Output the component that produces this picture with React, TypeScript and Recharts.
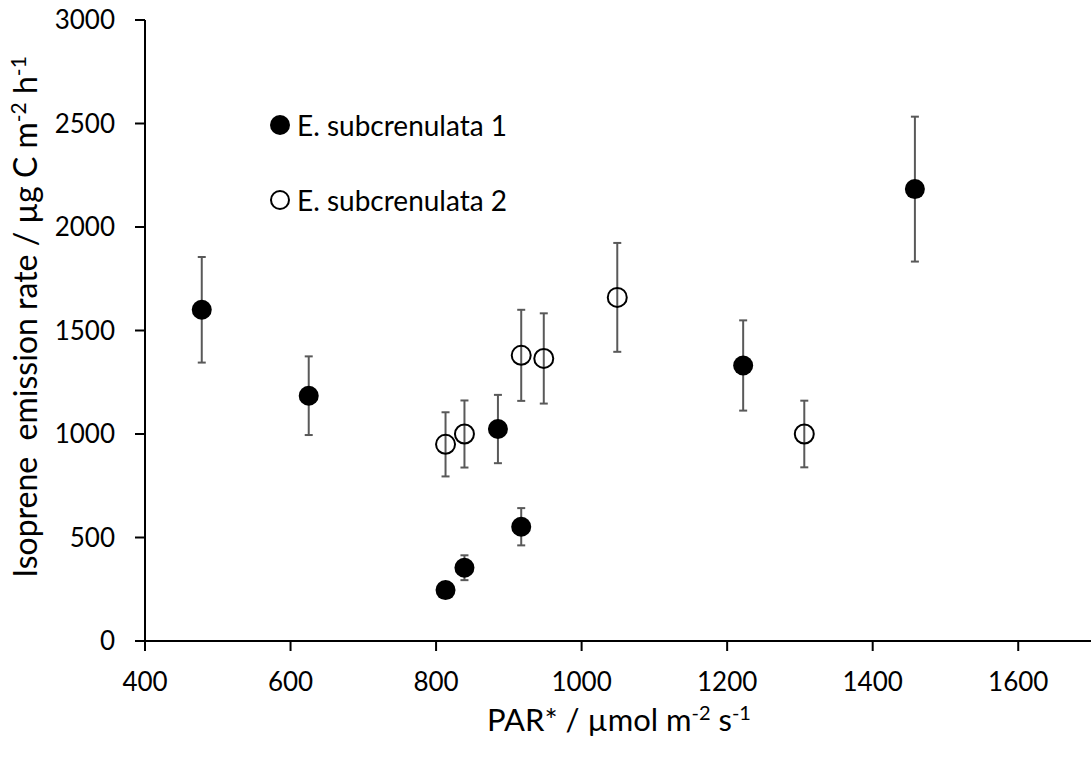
import React from "react"
import { ScatterChart, Scatter, XAxis, YAxis, ErrorBar, Legend } from "recharts"

// E. subcrenulata 1 (filled)
const parX1 = [478, 625, 813, 839, 885, 917, 1222, 1458]
const rate1 = [1600, 1185, 246, 354, 1024, 552, 1331, 2183]
const err1 = [255, 190, 30, 60, 165, 90, 218, 350]

// E. subcrenulata 2 (open)
const parX2 = [813, 839, 917, 948, 1049, 1306]
const rate2 = [950, 1000, 1380, 1365, 1660, 1000]
const err2 = [155, 162, 220, 218, 263, 161]

const xTicks = [400, 600, 800, 1000, 1200, 1400, 1600]
const yTicks = [0, 500, 1000, 1500, 2000, 2500, 3000]

const seriesNames = ["E. subcrenulata 1", "E. subcrenulata 2"]

const font = "Lato, 'Open Sans', sans-serif"

const data1 = parX1.map((x, i) => ({ x, y: rate1[i], err: err1[i] }))
const data2 = parX2.map((x, i) => ({ x, y: rate2[i], err: err2[i] }))

const FilledDot = (p: any) => <circle cx={p.cx} cy={p.cy} r={10} fill="#000" />
const OpenDot = (p: any) => (
  <circle cx={p.cx} cy={p.cy} r={9.5} fill="none" stroke="#000" strokeWidth={2} />
)

function YTitle() {
  const cx = 37
  const cy = 317
  return (
    <text
      x={cx}
      y={cy}
      transform={`rotate(-90, ${cx}, ${cy})`}
      textAnchor="middle"
      fontFamily={font}
      fontSize={32}
      fill="#000"
      style={{ whiteSpace: "pre" }}
    >
      <tspan>Isoprene  emission rate / µg C m</tspan>
      <tspan dy={-11} fontSize={21}>-2</tspan>
      <tspan dy={11}> h</tspan>
      <tspan dy={-11} fontSize={21}>-1</tspan>
    </text>
  )
}

function XTitle() {
  return (
    <text x={619} y={731} textAnchor="middle" fontFamily={font} fontSize={31} fill="#000">
      <tspan>PAR* / µmol m</tspan>
      <tspan dy={-11} fontSize={20}>-2</tspan>
      <tspan dy={11}> s</tspan>
      <tspan dy={-11} fontSize={20}>-1</tspan>
    </text>
  )
}

function LegendBox() {
  return (
    <div style={{ fontFamily: font, fontSize: 28, color: "#000", lineHeight: "30px" }}>
      {seriesNames.map((name, i) => (
        <div key={name} style={{ display: "flex", alignItems: "center", height: 30, marginBottom: i === 0 ? 45 : 0 }}>
          <svg width={22} height={22} style={{ marginRight: 6 }}>
            {i === 0 ? (
              <circle cx={11} cy={11} r={10} fill="#000" />
            ) : (
              <circle cx={11} cy={11} r={9} fill="none" stroke="#000" strokeWidth={2} />
            )}
          </svg>
          <span>{name}</span>
        </div>
      ))}
    </div>
  )
}

export default function App() {
  const tickStyle = { fill: "#000", fontSize: 26, fontFamily: font }
  return (
    <div style={{ position: "absolute", left: 0, top: 0, background: "#fff" }}>
      <ScatterChart width={1092} height={757} margin={{ top: 20, right: 1, left: 0, bottom: 0 }}>
        <XAxis
          type="number"
          dataKey="x"
          domain={[400, 1700]}
          ticks={xTicks}
          allowDataOverflow
          height={116}
          tickSize={10}
          tickMargin={22}
          tick={tickStyle}
          axisLine={{ stroke: "#000", strokeWidth: 2 }}
          tickLine={{ stroke: "#000", strokeWidth: 2 }}
          label={<XTitle />}
        />
        <YAxis
          type="number"
          dataKey="y"
          domain={[0, 3000]}
          ticks={yTicks}
          width={145}
          tickSize={10}
          tickMargin={20}
          tick={tickStyle}
          axisLine={{ stroke: "#000", strokeWidth: 2 }}
          tickLine={{ stroke: "#000", strokeWidth: 2 }}
          label={<YTitle />}
        />
        <Legend
          layout="horizontal"
          align="center"
          verticalAlign="middle"
          content={<LegendBox />}
          wrapperStyle={{ position: "absolute", left: 269, top: 110, width: 320 }}
        />
        <Scatter name={seriesNames[0]} data={data1} shape={FilledDot} isAnimationActive={false}>
          <ErrorBar dataKey="err" direction="y" width={4} stroke="#595959" strokeWidth={2} isAnimationActive={false} />
        </Scatter>
        <Scatter name={seriesNames[1]} data={data2} shape={OpenDot} isAnimationActive={false}>
          <ErrorBar dataKey="err" direction="y" width={4} stroke="#595959" strokeWidth={2} isAnimationActive={false} />
        </Scatter>
      </ScatterChart>
    </div>
  )
}
